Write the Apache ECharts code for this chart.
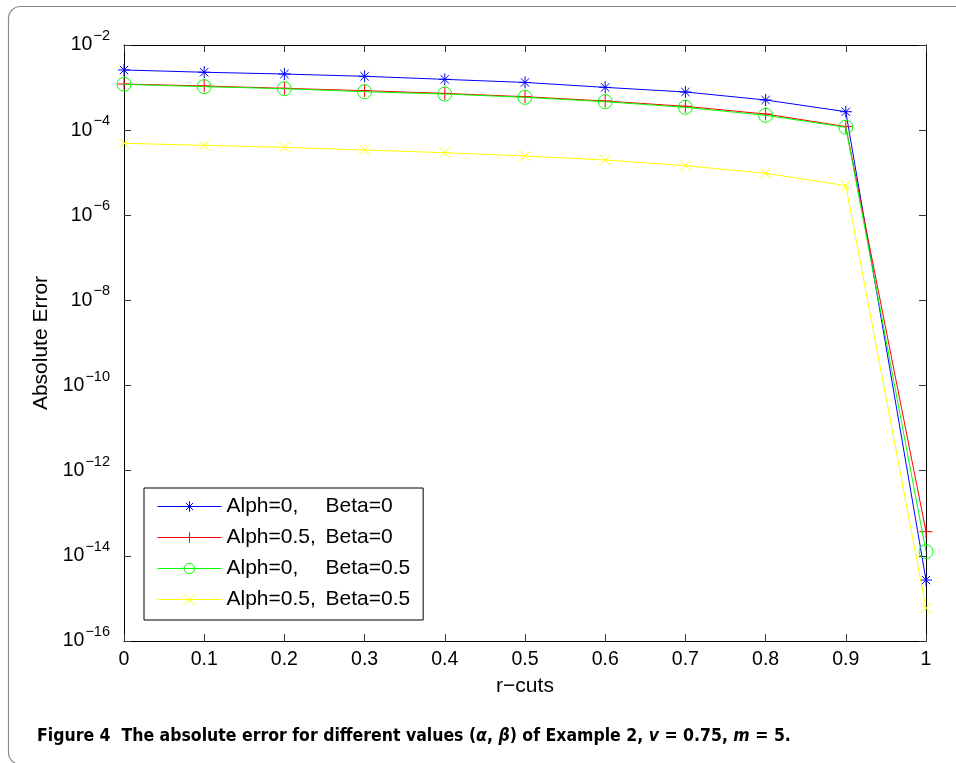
<!DOCTYPE html>
<html>
<head>
<meta charset="utf-8">
<script src="https://cdn.jsdelivr.net/npm/echarts@6/dist/echarts.min.js"></script>
<style>
html,body{margin:0;padding:0;background:#fff;}
#c{width:956px;height:763px;}
</style>
</head>
<body>
<div id="c"></div>
<script>
// ---- data ----
var rCuts = [0, 0.1, 0.2, 0.3, 0.4, 0.5, 0.6, 0.7, 0.8, 0.9, 1];
var seriesNames = ['Alph=0,    Beta=0', 'Alph=0.5, Beta=0', 'Alph=0,    Beta=0.5', 'Alph=0.5, Beta=0.5'];
var errA0B0   = [2.59e-3, 2.29e-3, 2.08e-3, 1.84e-3, 1.56e-3, 1.32e-3, 1.01e-3, 7.87e-4, 5.11e-4, 2.71e-4, 2.7e-15];
var errA05B0  = [1.21e-3, 1.09e-3, 9.6e-4, 8.45e-4, 7.3e-4, 6.1e-4, 4.83e-4, 3.63e-4, 2.39e-4, 1.21e-4, 3.7e-14];
var errA0B05  = [1.19e-3, 1.05e-3, 9.4e-4, 8.0e-4, 7.06e-4, 5.9e-4, 4.66e-4, 3.44e-4, 2.23e-4, 1.17e-4, 1.26e-14];
var errA05B05 = [4.9e-5, 4.4e-5, 3.95e-5, 3.41e-5, 2.95e-5, 2.47e-5, 1.99e-5, 1.46e-5, 9.7e-6, 4.96e-6, 5.9e-16];
var yTickExponents = [-16, -14, -12, -10, -8, -6, -4, -2];
var xAxisTitle = 'r\u2212cuts';
var yAxisTitle = 'Absolute Error';

var colors = ['rgb(0,0,255)', 'rgb(255,0,0)', 'rgb(0,255,0)', 'rgb(255,255,0)'];
var symbols = [
  'path://M0,-1L0,1M-1,0L1,0M-0.7,-0.7L0.7,0.7M-0.7,0.7L0.7,-0.7',
  'path://M0,-1L0,1M-1,0L1,0',
  'path://M1,0A1,1,0,1,1,-1,0A1,1,0,1,1,1,0Z',
  'path://M-1,-1L1,1M-1,1L1,-1'
];
var symSizes = [12, 13, 14, 10];
var allData = [errA0B0, errA05B0, errA0B05, errA05B05];

var FONT = '"Liberation Sans", Arial, Helvetica, sans-serif';

function pairs(vals) {
  return rCuts.map(function (x, i) { return [x, vals[i]]; });
}

var series = allData.map(function (vals, k) {
  return {
    name: seriesNames[k],
    type: 'line',
    data: pairs(vals),
    symbol: symbols[k],
    symbolSize: symSizes[k],
    symbolKeepAspect: true,
    showAllSymbol: true,
    lineStyle: { color: colors[k], width: 1 },
    itemStyle: { color: 'none', borderColor: colors[k], borderWidth: 1 },
    emphasis: { disabled: true },
    animation: false,
    z: 3 + k
  };
});

var legendData = seriesNames.map(function (n, k) {
  return {
    name: n,
    itemStyle: { color: 'none', borderColor: colors[k], borderWidth: 1, opacity: 1 },
    lineStyle: { color: colors[k], width: 1, opacity: 1 }
  };
});

var chart = echarts.init(document.getElementById('c'), null, { renderer: 'canvas' });

var tickStyle = { show: true, inside: true, length: 7, lineStyle: { color: '#333', width: 1 } };
var lineStyleAxis = { show: true, onZero: false, lineStyle: { color: '#000', width: 1 } };

chart.setOption({
  animation: false,
  backgroundColor: '#fff',
  grid: { left: 124, right: 30, top: 45, bottom: 122, containLabel: false },
  xAxis: [{
    type: 'value', min: 0, max: 1, interval: 0.1,
    position: 'bottom',
    axisLine: lineStyleAxis,
    axisTick: tickStyle,
    splitLine: { show: false },
    axisLabel: {
      margin: 9, fontSize: 19.5, color: '#000', fontFamily: FONT,
      formatter: function (v) { return String(Math.round(v * 10) / 10); }
    },
    name: xAxisTitle, nameLocation: 'middle', nameGap: 35,
    nameTextStyle: { fontSize: 21, color: '#000', fontFamily: FONT }
  }, {
    type: 'value', min: 0, max: 1, interval: 0.1,
    position: 'top',
    axisLine: lineStyleAxis,
    axisTick: tickStyle,
    splitLine: { show: false },
    axisLabel: { show: false }
  }],
  yAxis: [{
    type: 'log', logBase: 10, min: 1e-16, max: 1e-2, interval: 2,
    position: 'left',
    axisLine: lineStyleAxis,
    axisTick: tickStyle,
    minorTick: { show: false },
    splitLine: { show: false },
    axisLabel: {
      margin: 14, color: '#000', fontFamily: FONT,
      formatter: function (v) {
        var e = Math.round(Math.log10(v));
        return '{b|10}{e|\u2212' + Math.abs(e) + '}';
      },
      rich: {
        b: { fontSize: 19.5, fontFamily: FONT, color: '#000' },
        e: { fontSize: 14.5, fontFamily: FONT, color: '#000', padding: [0, 0, 18, 1] }
      }
    },
    name: yAxisTitle, nameLocation: 'middle', nameGap: 64, nameRotate: 90,
    nameTextStyle: { fontSize: 21, color: '#000', fontFamily: FONT }
  }, {
    type: 'log', logBase: 10, min: 1e-16, max: 1e-2, interval: 2,
    position: 'right',
    axisLine: lineStyleAxis,
    axisTick: tickStyle,
    splitLine: { show: false },
    axisLabel: { show: false }
  }],
  legend: {
    left: 144, top: 488,
    orient: 'vertical',
    backgroundColor: '#fff',
    borderColor: '#000', borderWidth: 1,
    padding: [8, 13, 10, 13],
    itemWidth: 64, itemHeight: 13, itemGap: 10,
    data: legendData,
    selectedMode: false,
    inactiveColor: 'rgb(255,0,0)',
    inactiveBorderColor: 'rgb(255,0,0)',
    inactiveBorderWidth: 1,
    textStyle: { fontSize: 21, lineHeight: 20, color: '#000', fontFamily: FONT,
      rich: {
        a: { width: 99, fontSize: 21, lineHeight: 20, fontFamily: FONT, color: '#000' },
        b: { fontSize: 21, lineHeight: 20, fontFamily: FONT, color: '#000' }
      }
    },
    formatter: function (name) {
      var i = name.indexOf(',');
      return '{a|' + name.slice(0, i + 1) + '}{b|' + name.slice(i + 1).trim() + '}';
    },
    z: 20
  },
  graphic: [{
    type: 'rect', silent: true, z: -1,
    shape: { x: 8.5, y: 6.5, width: 1000, height: 758, r: 12 },
    style: { fill: 'none', stroke: '#8a8a8a', lineWidth: 1.2 }
  }, {
    type: 'text', left: 37, top: 727, silent: true,
    style: {
      text: '{t|Figure 4  The absolute error for different values (}{i|\u03b1}{t|, }{i|\u03b2}{t|) of Example 2, }{i|v}{t| = 0.75, }{i|m}{t| = 5.}',
      rich: {
        t: { fontSize: 17.5, fontWeight: 'bold', fontFamily: '"DejaVu Sans Condensed", "Liberation Sans Narrow", sans-serif', fill: '#000' },
        i: { fontSize: 17.5, fontWeight: 'bold', fontStyle: 'italic', fontFamily: '"DejaVu Sans Condensed", "Liberation Sans Narrow", sans-serif', fill: '#000' }
      }
    }
  }],
  series: series
});
</script>
</body>
</html>
